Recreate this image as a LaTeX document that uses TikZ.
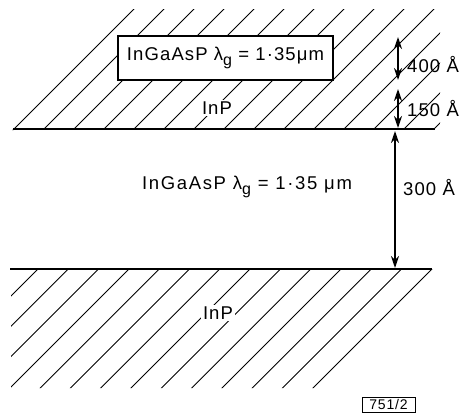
\documentclass[tikz,border=0pt]{standalone}
\usepackage{fontspec}
\setmainfont{Liberation Sans}
\usetikzlibrary{arrows.meta}
\newcommand{\lsub}[1]{\raisebox{-0.45ex}{\fontsize{16}{16}\selectfont #1}}
\newcommand{\wide}{\addfontfeature{LetterSpace=6}}
\newcommand{\wider}{\addfontfeature{LetterSpace=9}}
\tikzset{
  hatch/.style={line width=0.9pt},
  layer/.style={line width=2.4pt},
  dim/.style={line width=1.6pt,{Stealth[length=12pt,width=8pt]}-{Stealth[length=12pt,width=8pt]}},
  lbl/.style={font=\fontsize{18.5}{22}\selectfont\wide, inner sep=1pt},
  whitelbl/.style={lbl, fill=white, inner sep=2pt},
  tagbox/.style={draw, line width=0.8pt, font=\fontsize{14}{16}\selectfont\wide, minimum width=53pt, minimum height=15pt, inner sep=0.5pt}
}
\begin{document}
\begin{tikzpicture}[x=1pt,y=-1pt]
\useasboundingbox (0,0) rectangle (464,413);
% upper hatched region
\begin{scope}
\clip (12,130) -- (133,9) -- (440,9) -- (440,129) -- cycle;
\foreach \c in {143,173,...,563} \draw[hatch] (\c-140,140) -- (\c,0);
\end{scope}
% lower hatched region
\begin{scope}
\clip (11,269) -- (434,269) -- (315,388) -- (11,388) -- cycle;
\foreach \c in {307,337.3,...,702} \draw[hatch] (\c-260,260) -- (\c-400,400);
\end{scope}
% interfaces
\coordinate (u1) at (13,129);
\coordinate (u2) at (435,129);
\coordinate (d1) at (10,269);
\coordinate (d2) at (432,269);
\draw[layer] (u1) -- (u2);
\draw[layer] (d1) -- (d2);
% quantum well box
\node[draw, line width=1.8pt, fill=white, minimum width=215pt, minimum height=44pt, lbl] (box) at (225.5,58) {InGaAsP λ\lsub{g} = 1·35μm};
\node[whitelbl] (inp1) at (217,108) {InP};
\node[lbl, font=\fontsize{18.5}{22}\selectfont\wider] (mid) at (247,187) {InGaAsP λ\lsub{g} = 1·35 μm};
\node[whitelbl] (inp2) at (218,313) {InP};
% dimension arrows
\coordinate (a1) at (398,37);
\coordinate (a2) at (398,80);
\coordinate (b1) at (398,89);
\coordinate (b2) at (398,128);
\coordinate (c1) at (395,131);
\coordinate (c2) at (395,268);
\draw[dim] (a1) -- (a2);
\draw[dim] (b1) -- (b2);
\draw[dim] (c1) -- (c2);
\node[lbl, anchor=west] (l400) at (406,65) {400 Å};
\node[lbl, anchor=west] (l150) at (406,109) {150 Å};
\node[lbl, anchor=west] (l300) at (402,188) {300 Å};
% figure tag
\node[tagbox] (tag) at (388.5,404.5) {751/2};
\end{tikzpicture}
\end{document}
